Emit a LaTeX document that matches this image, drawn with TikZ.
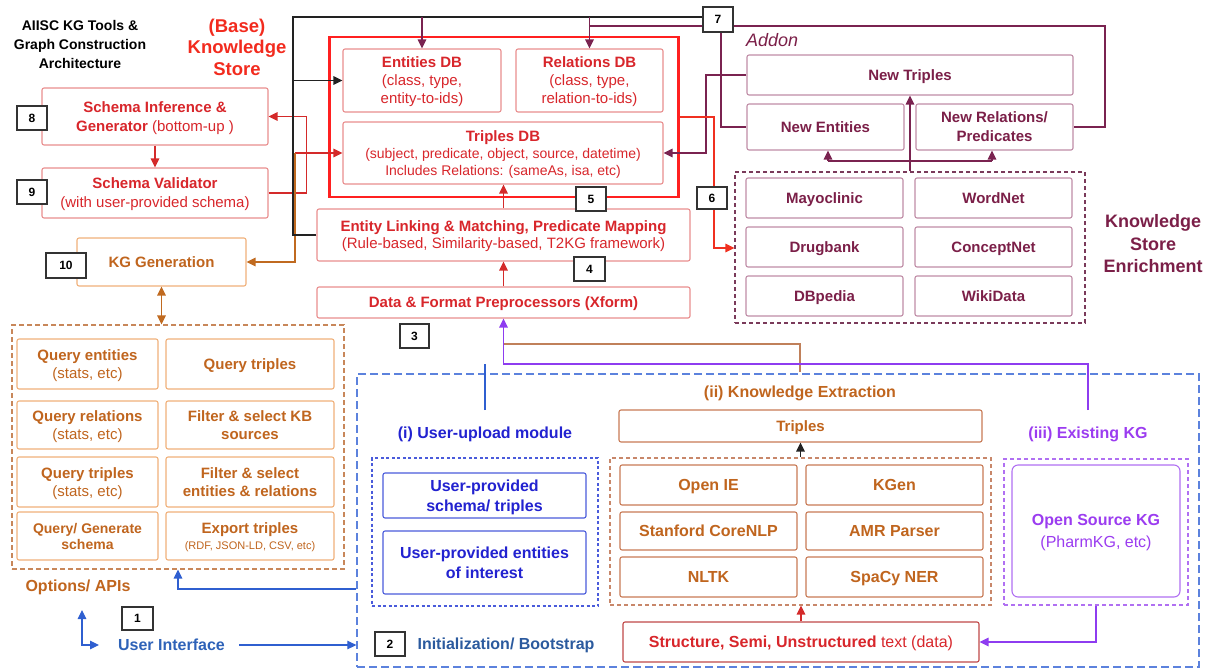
\documentclass[tikz,border=0pt]{standalone}
\usepackage{fontspec}
\setmainfont{Liberation Sans}
\usetikzlibrary{arrows.meta}
\newcommand\fsz[2]{\fontsize{#1}{#2}\selectfont}
\definecolor{basered}{HTML}{F22B1E}
\definecolor{redtxt}{HTML}{D8262B}
\definecolor{redborder}{HTML}{E98E8E}
\definecolor{bigred}{HTML}{FF2020}
\definecolor{orangetxt}{HTML}{C0651E}
\definecolor{orangeborder}{HTML}{F0B07A}
\definecolor{optdash}{HTML}{C8875A}
\definecolor{maroontxt}{HTML}{7B1F48}
\definecolor{maroonborder}{HTML}{C08CA6}
\definecolor{maroonline}{HTML}{7A2350}
\definecolor{ksedash}{HTML}{7A3A5A}
\definecolor{bluetxt}{HTML}{2222D0}
\definecolor{blueborder}{HTML}{4A5BDB}
\definecolor{bluedash}{HTML}{5C82DD}
\definecolor{uiblue}{HTML}{2E62B8}
\definecolor{initblue}{HTML}{2B5A9E}
\definecolor{purpletxt}{HTML}{9B3CF0}
\definecolor{purpleborder}{HTML}{B070F2}
\definecolor{keborder}{HTML}{C87A55}
\definecolor{kedash}{HTML}{C8876A}
\definecolor{structborder}{HTML}{C04848}
\definecolor{lnred}{HTML}{D42A2A}
\definecolor{lnbright}{HTML}{F03020}
\definecolor{lnblack}{HTML}{222222}
\definecolor{lnorange}{HTML}{C06A20}
\definecolor{lnbrown}{HTML}{C0805A}
\definecolor{lnblue}{HTML}{2F5FD0}
\definecolor{lnpurple}{HTML}{8E3CF0}
\begin{document}
\begin{tikzpicture}[x=1pt,y=-1pt,
  >={Triangle[length=9pt,width=8.5pt]},
  sz/.style 2 args={minimum width=#1pt,minimum height=#2pt},
  box/.style={draw,fill=white,line width=1.1pt,rounded corners=2pt,inner sep=0pt,align=center,text depth=0pt},
  redbox/.style={box,draw=redborder,text=redtxt},
  orbox/.style={box,draw=orangeborder,text=orangetxt},
  mbox/.style={box,draw=maroonborder,text=maroontxt,font=\fsz{15}{19}\bfseries},
  bbox/.style={box,draw=blueborder,text=bluetxt,font=\fsz{16}{20}\bfseries},
  kbox/.style={box,draw=keborder,text=orangetxt,font=\fsz{16}{19}\bfseries},
  dbox/.style={draw,line width=1.1pt,dash pattern=on 5pt off 3pt,inner sep=0pt},
  numbox/.style={draw=black!80,fill=white,line width=1.1pt,inner sep=0pt,font=\fsz{12}{14}\bfseries},
  conn/.style={line width=1.2pt},
  cred/.style={conn,draw=lnred},
  cbright/.style={conn,draw=lnbright},
  cblack/.style={conn,draw=lnblack},
  cmaroon/.style={conn,draw=maroonline},
  corange/.style={conn,draw=lnorange},
  cbrown/.style={conn,draw=lnbrown},
  cblue/.style={conn,draw=lnblue},
  cpurple/.style={conn,draw=lnpurple},
  lbl/.style={inner sep=0pt,align=center,font=\fsz{16}{19}\bfseries}
]
\useasboundingbox (0,0) rectangle (1211,670);

% titles
\node[lbl,font=\fsz{14}{19}\bfseries] (title) at (80,44) {AIISC KG Tools \&\\Graph Construction\\Architecture};
\node[lbl,font=\fsz{18.5}{21.5}\bfseries,text=basered] (bks) at (237,47) {(Base)\\Knowledge\\Store};

% schema boxes
\node[redbox,sz={226}{57},font=\fsz{15}{19}\bfseries] (schinf) at (155,116.5) {Schema Inference \&\\Generator \mdseries(bottom-up )};
\node[redbox,sz={226}{50},font=\fsz{15}{19}\bfseries] (schval) at (155,193) {Schema Validator\\\mdseries(with user-provided schema)};
\node[orbox,sz={169}{48},font=\fsz{15}{18}\bfseries] (kggen) at (161.5,262) {KG Generation};

% options
\node[dbox,draw=optdash,sz={332}{244}] (opts) at (178,447) {};
\node[orbox,sz={141}{50},font=\fsz{15}{18}\bfseries] (qe) at (87.5,364) {Query entities\\\mdseries(stats, etc)};
\node[orbox,sz={168}{50},font=\fsz{15}{18}\bfseries] (qt1) at (250,364) {Query triples};
\node[orbox,sz={141}{48},font=\fsz{15}{18}\bfseries] (qr) at (87.5,425) {Query relations\\\mdseries(stats, etc)};
\node[orbox,sz={168}{48},font=\fsz{15}{18}\bfseries] (fkb) at (250,425) {Filter \& select KB\\sources};
\node[orbox,sz={141}{50},font=\fsz{15}{18}\bfseries] (qt2) at (87.5,482) {Query triples\\\mdseries(stats, etc)};
\node[orbox,sz={168}{50},font=\fsz{15}{18}\bfseries] (fer) at (250,482) {Filter \& select\\entities \& relations};
\node[orbox,sz={141}{48},font=\fsz{14}{16}\bfseries] (qg) at (87.5,536) {Query/ Generate\\schema};
\node[orbox,sz={168}{48},font=\fsz{15}{16}\bfseries] (ex) at (250,536) {Export triples\\\fsz{11}{14}\mdseries(RDF, JSON-LD, CSV, etc)};
\node[lbl,text=orangetxt] (optlbl) at (78,587) {Options/ APIs};
\node[lbl,text=uiblue] (ui) at (171.5,645) {User Interface};

% knowledge store
\node[draw=bigred,line width=2.5pt,sz={349}{160},inner sep=0pt] (ks) at (504,117) {};
\node[redbox,sz={158}{63},font=\fsz{15}{18}\bfseries] (edb) at (422,80.5) {Entities DB\\\mdseries(class, type,\\\mdseries entity-to-ids)};
\node[redbox,sz={147}{63},font=\fsz{15}{18}\bfseries] (rdb) at (589.5,80.5) {Relations DB\\\mdseries(class, type,\\\mdseries relation-to-ids)};
\node[redbox,sz={320}{62},font=\fsz{15}{17}\bfseries] (tdb) at (503,153) {Triples DB\\\fsz{14}{17}\mdseries(subject, predicate, object, source, datetime)\\\fsz{14}{17}\mdseries Includes Relations: (sameAs, isa, etc)};
\node[redbox,sz={373}{52},font=\fsz{15}{17}\bfseries] (el) at (503.5,235) {Entity Linking \& Matching, Predicate Mapping\\\mdseries(Rule-based, Similarity-based, T2KG framework)};
\node[redbox,sz={373}{31},font=\fsz{15}{17}\bfseries] (xf) at (503.5,302.5) {Data \& Format Preprocessors (Xform)};

% addon
\node[inner sep=0pt,anchor=west,font=\fsz{18}{20}\itshape,text=maroontxt] (addon) at (746,40) {Addon};
\node[mbox,sz={326}{40}] (nt) at (910,75) {New Triples};
\node[mbox,sz={157}{46}] (ne) at (825.5,127) {New Entities};
\node[mbox,sz={157}{46}] (nr) at (994.5,127) {New Relations/\\Predicates};

% enrichment
\node[dbox,draw=ksedash,dash pattern=on 4pt off 3pt,sz={350}{151}] (kse) at (910,247.5) {};
\node[mbox,sz={157}{40}] (mc) at (824.5,198) {Mayoclinic};
\node[mbox,sz={157}{40}] (wn) at (993.5,198) {WordNet};
\node[mbox,sz={157}{40}] (dbk) at (824.5,247) {Drugbank};
\node[mbox,sz={157}{40}] (cn) at (993.5,247) {ConceptNet};
\node[mbox,sz={157}{40}] (dbp) at (824.5,296) {DBpedia};
\node[mbox,sz={157}{40}] (wd) at (993.5,296) {WikiData};
\node[lbl,font=\fsz{18}{22.5}\bfseries,text=maroontxt] (ksel) at (1153,244) {Knowledge\\Store\\Enrichment};

% bootstrap area
\node[dbox,draw=bluedash,line width=1.3pt,dash pattern=on 8pt off 4pt,sz={842}{293}] (boot) at (778,520.5) {};
\node[lbl,text=bluetxt] (uulbl) at (485,434) {(i) User-upload module};
\node[dbox,draw=blueborder,dash pattern=on 3pt off 2.5pt,sz={226}{148}] (uubox) at (485,532) {};
\node[bbox,sz={203}{45}] (ups) at (484.5,495.5) {User-provided\\schema/ triples};
\node[bbox,sz={203}{63}] (upe) at (484.5,562.5) {User-provided entities\\of interest};
\node[lbl,text=initblue] (init) at (506,645) {Initialization/ Bootstrap};

\node[lbl,text=orangetxt] (kelbl) at (800,393) {(ii) Knowledge Extraction};
\node[box,draw=keborder,text=orangetxt,font=\fsz{15}{18}\bfseries,sz={363}{32}] (ketr) at (800.5,426) {Triples};
\node[dbox,draw=kedash,dash pattern=on 4pt off 3pt,sz={381}{147}] (ked) at (800.5,531.5) {};
\node[kbox,sz={177}{40}] (oie) at (708.5,485) {Open IE};
\node[kbox,sz={177}{40}] (kgen) at (894.5,485) {KGen};
\node[kbox,sz={177}{38}] (scn) at (708.5,531) {Stanford CoreNLP};
\node[kbox,sz={177}{38}] (amr) at (894.5,531) {AMR Parser};
\node[kbox,sz={177}{40}] (nltk) at (708.5,577) {NLTK};
\node[kbox,sz={177}{40}] (spacy) at (894.5,577) {SpaCy NER};
\node[box,draw=structborder,text=redtxt,font=\fsz{16}{19},sz={356}{40}] (struct) at (801,642) {\textbf{Structure, Semi, Unstructured} text (data)};

\node[lbl,text=purpletxt] (ekgl) at (1088,434) {(iii) Existing KG};
\node[dbox,draw=purpleborder,dash pattern=on 4pt off 3pt,sz={184}{146}] (ekgd) at (1096,532) {};
\node[box,draw=purpleborder,text=purpletxt,rounded corners=6pt,font=\fsz{16}{22}\bfseries,sz={168}{132}] (osk) at (1096,531) {Open Source KG\\\mdseries(PharmKG, etc)};

% coordinates
\coordinate (top) at (293,17);
\coordinate (c7a) at (703,17);
\coordinate (m26) at (589.5,26);
\coordinate (c7b) at (703,26);
\coordinate (c7c) at (733,26);
\coordinate (c7d) at (721,32);
\coordinate (r7) at (1105,26);
\coordinate (ntv) at (706,153);
\coordinate (rk) at (714,248);
\coordinate (lt) at (295,153);
\coordinate (bl) at (828,161);
\coordinate (brr) at (992,161);
\coordinate (bo) at (178,589);
\coordinate (uia) at (82,610);
\coordinate (uib) at (99,645);
\coordinate (pj) at (503.5,364);
\coordinate (pe) at (1088,410);
\coordinate (ub) at (485,410);
\coordinate (ok) at (800,372);
\coordinate (oj) at (503.5,344);

% connectors
\draw[cred,->] (el.north) -- (el.north |- tdb.south);
\draw[cred,->] (xf.north) -- (el.south);
\draw[cred,->] (schinf.south) -- (schval.north);
\draw[cred,->] (schval.east) -- ++(38,0) |- (schinf.east);
\draw[cred,->] (lt) -- (tdb.west);
\draw[corange,->] (lt) |- (kggen.east);
\draw[corange,<->] (kggen.south) -- (kggen.south |- opts.north);

\draw[cblack] (el.west) -| (top) -- (c7a);
\draw[cblack,->] (edb.west -| top) -- (edb.west);
\draw[cmaroon,->] (edb.north |- top) -- (edb.north);
\draw[cmaroon,->] (rdb.north |- top) -- (rdb.north);
\draw[cmaroon] (m26) -- (c7b);
\draw[cmaroon] (c7d) |- (ne.west);
\draw[cmaroon] (c7c) -- (r7) |- (nr.east);
\draw[cmaroon,->] (nt.west) -| (ntv) -- (tdb.east);
\draw[cmaroon,->] (kse.north) -- (nt.south);
\draw[cmaroon] (bl) -- (brr);
\draw[cmaroon,->] (bl) -- (bl |- ne.south);
\draw[cmaroon,->] (brr) -- (brr |- nr.south);
\draw[cbright,->] (ks.east) -| (rk) -- (rk -| kse.west);

\draw[cblue,->] ([xshift=14pt]ui.east) -- (ui.east -| boot.west);
\draw[cblue,->] (bo -| boot.west) -| (opts.south);
\draw[cblue,<->] (uia) |- (uib);
\draw[cbrown] (ok) |- (oj);
\draw[cblue] (ub) -- (ub |- pj);
\draw[cpurple,->] (pe) |- (pj) -- (xf.south);
\draw[cblack,->] (ked.north) -- (ketr.south);
\draw[cred,->] (struct.north) -- (struct.north |- ked.south);
\draw[cpurple,->] (ekgd.south) |- (struct.east);

% number labels
\node[numbox,sz={30}{24}] (n8) at (32,118) {8};
\node[numbox,sz={30}{24}] (n9) at (32,192) {9};
\node[numbox,sz={40}{25}] (n10) at (66,265.5) {10};
\node[numbox,sz={31}{23}] (n1) at (137.5,618.5) {1};
\node[numbox,sz={30}{24}] (n2) at (390,644) {2};
\node[numbox,sz={29}{24}] (n3) at (414.5,336) {3};
\node[numbox,sz={31}{24}] (n4) at (589.5,269) {4};
\node[numbox,sz={30}{24}] (n5) at (591,199) {5};
\node[numbox,sz={30}{22}] (n6) at (712,198) {6};
\node[numbox,sz={30}{25}] (n7) at (718,19.5) {7};
\end{tikzpicture}
\end{document}
